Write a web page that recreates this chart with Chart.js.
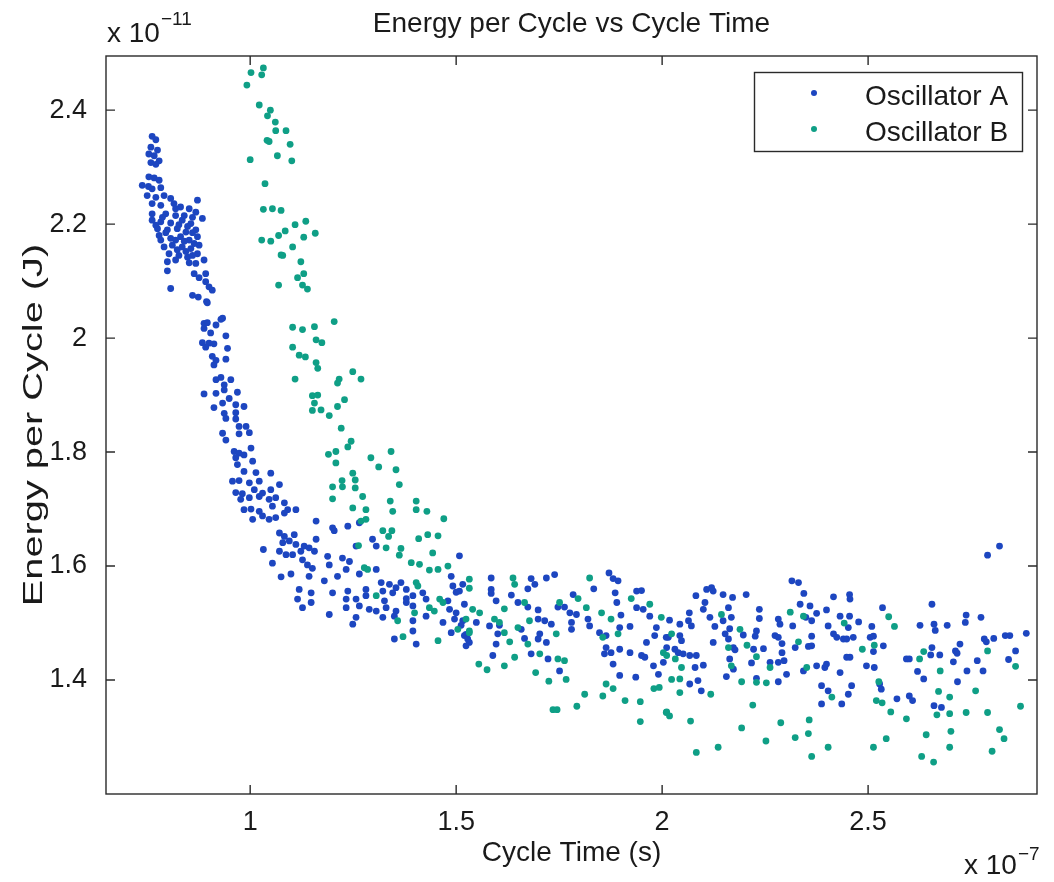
<!DOCTYPE html>
<html><head><meta charset="utf-8">
<script src="https://cdn.jsdelivr.net/npm/chart.js@4.4.0/dist/chart.umd.min.js"></script>
<style>html,body{margin:0;padding:0;background:#fff;}#wrap{width:1054px;height:882px;}</style>
</head><body><div id="wrap"><canvas id="c" width="1054" height="882"></canvas></div>
<script>
// Units: x in 1e-7 s, y in 1e-11 J
const chartTitle = 'Energy per Cycle vs Cycle Time';
const xTitle = 'Cycle Time (s)';
const yTitle = 'Energy per Cycle (J)';
const xTicks = [1, 1.5, 2, 2.5];
const yTicks = [1.4, 1.6, 1.8, 2.0, 2.2, 2.4];
const xRange = [0.65, 2.91];
const yRange = [1.2, 2.495];
const xExponent = '\u22127';
const yExponent = '\u221211';
const seriesNames = ['Oscillator A', 'Oscillator B'];
const seriesColors = ['#1d46c0', '#0f9f86'];

const oscA = [
[0.762,2.354],[0.771,2.348],[0.759,2.335],[0.775,2.33],[0.754,2.323],[0.767,2.32],[0.779,2.311],[0.759,2.308],[0.771,2.305],
[0.754,2.283],[0.767,2.281],[0.779,2.277],[0.738,2.268],[0.753,2.266],[0.762,2.262],[0.783,2.264],[0.75,2.25],[0.771,2.247],
[0.791,2.25],[0.807,2.245],[0.872,2.242],[0.762,2.236],[0.783,2.233],[0.815,2.236],[0.831,2.23],[0.852,2.227],[0.868,2.221],
[0.762,2.218],[0.795,2.218],[0.819,2.215],[0.884,2.21],[0.762,2.207],[0.783,2.204],[0.807,2.202],[0.835,2.207],[0.856,2.201],
[0.775,2.192],[0.799,2.19],[0.823,2.192],[0.844,2.186],[0.868,2.19],[0.779,2.18],[0.807,2.175],[0.831,2.178],[0.852,2.172],
[0.872,2.178],[0.811,2.163],[0.835,2.16],[0.856,2.157],[0.876,2.163],[0.803,2.148],[0.827,2.145],[0.848,2.142],[0.872,2.148],
[0.799,2.134],[0.819,2.137],[0.852,2.132],[0.868,2.131],[0.888,2.137],[0.799,2.118],[0.864,2.113],[0.876,2.106],[0.892,2.113],
[0.892,2.099],[0.9,2.09],[0.807,2.087],[0.86,2.075],[0.874,2.072],[0.894,2.064],[0.908,2.084],[0.933,2.035],
[0.819,2.227],[0.84,2.215],[0.86,2.212],[0.827,2.199],[0.848,2.196],[0.86,2.185],[0.84,2.17],[0.819,2.172],[0.864,2.166],
[0.844,2.152],[0.823,2.155],[0.86,2.145],[0.791,2.16],[0.787,2.212],[0.771,2.198],[0.795,2.185],[0.783,2.172],
[0.896,2.062],[0.888,2.026],[0.896,2.027],[0.917,2.023],[0.929,2.033],[0.888,2.017],[0.904,2.009],[0.941,2.004],[0.884,1.992],
[0.9,1.991],[0.912,1.99],[0.945,1.982],[0.892,1.984],[0.908,1.968],[0.917,1.961],[0.941,1.963],[0.912,1.953],[0.917,1.927],
[0.929,1.931],[0.953,1.927],[0.937,1.918],[0.888,1.902],[0.917,1.903],[0.937,1.909],[0.969,1.905],[0.949,1.894],[0.912,1.878],
[0.933,1.886],[0.965,1.883],[0.985,1.88],[0.937,1.868],[0.965,1.869],[0.941,1.859],[0.965,1.858],[0.973,1.845],[0.99,1.845],
[0.998,1.834],[0.973,1.832],[0.933,1.833],[0.941,1.821],[1.002,1.807],[0.961,1.801],[0.973,1.798],[0.985,1.795],[0.965,1.79],
[1.006,1.784],[0.969,1.778],[0.985,1.766],[1.014,1.764],[1.05,1.763],[0.957,1.749],[0.973,1.75],[0.998,1.746],[1.022,1.749],
[1.071,1.743],[0.965,1.729],[0.981,1.727],[1.01,1.734],[1.03,1.728],[1.05,1.734],[0.977,1.717],[0.998,1.72],[1.022,1.722],
[1.046,1.717],[1.062,1.72],[1.083,1.711],[0.985,1.699],[1.002,1.7],[1.022,1.696],[1.054,1.705],[1.091,1.699],[1.111,1.699],
[1.006,1.682],[1.03,1.688],[1.046,1.682],[1.062,1.685],[1.083,1.693],[1.16,1.679],
[1.071,1.658],[1.083,1.652],[1.107,1.655],[1.2,1.667],[1.237,1.67],[1.265,1.676],[1.204,1.662],[1.079,1.641],[1.095,1.644],
[1.111,1.638],[1.131,1.635],[1.16,1.647],[1.032,1.629],[1.071,1.626],[1.123,1.626],[1.143,1.632],[1.257,1.635],[1.297,1.647],
[1.306,1.635],[1.087,1.62],[1.103,1.62],[1.127,1.611],[1.156,1.626],[1.188,1.617],[1.224,1.614],[1.241,1.608],[1.054,1.605],
[1.139,1.602],[1.151,1.596],[1.192,1.602],[1.075,1.581],[1.099,1.586],[1.143,1.582],[1.18,1.574],[1.212,1.582],[1.233,1.594],
[1.265,1.586],[1.306,1.594],[1.318,1.571],[1.338,1.568],[1.354,1.562],[1.366,1.571],[1.488,1.582],[1.508,1.618],[1.119,1.559],
[1.148,1.553],[1.2,1.553],[1.237,1.556],[1.281,1.559],[1.322,1.556],[1.346,1.553],[1.379,1.559],[1.395,1.548],[1.419,1.553],
[1.492,1.565],[1.508,1.556],[1.115,1.542],[1.233,1.542],[1.257,1.542],[1.281,1.548],[1.326,1.539],[1.379,1.543],[1.427,1.542],
[1.48,1.539],[1.127,1.527],[1.148,1.536],[1.192,1.515],[1.233,1.527],[1.265,1.53],[1.289,1.524],[1.306,1.521],[1.33,1.527],
[1.354,1.521],[1.379,1.536],[1.395,1.53],[1.484,1.524],[1.5,1.518],[1.52,1.533],[1.257,1.51],[1.322,1.51],[1.35,1.512],
[1.395,1.504],[1.427,1.512],[1.468,1.501],[1.516,1.504],[1.249,1.498],[1.395,1.486],[1.488,1.483],[1.524,1.48],[1.35,1.472],
[1.403,1.463],[1.532,1.466],
[1.585,1.579],[1.682,1.578],[1.719,1.579],[1.739,1.585],[1.691,1.568],[1.674,1.56],[1.5,1.554],[1.516,1.568],[1.585,1.559],
[1.634,1.549],[1.585,1.552],[1.597,1.539],[1.65,1.536],[1.674,1.528],[1.699,1.523],[1.747,1.528],[1.763,1.528],[1.784,1.55],
[1.792,1.515],[1.776,1.518],[1.871,1.588],[1.881,1.578],[1.893,1.574],[1.834,1.56],[1.886,1.553],[1.938,1.556],[1.95,1.557],
[1.89,1.536],[1.938,1.527],[1.954,1.524],[1.9,1.514],[1.97,1.512],[1.496,1.507],[1.512,1.496],[1.549,1.501],[1.581,1.495],
[1.605,1.496],[1.658,1.489],[1.699,1.507],[1.715,1.504],[1.731,1.498],[1.703,1.481],[1.666,1.473],[1.601,1.481],[1.52,1.478],
[1.528,1.472],[1.597,1.463],[1.699,1.472],[1.719,1.466],[1.78,1.501],[1.78,1.489],[1.82,1.507],[1.824,1.495],[1.848,1.483],
[1.864,1.478],[1.897,1.492],[1.922,1.494],[1.986,1.492],[1.982,1.478],[1.962,1.466],[2.01,1.475],[1.524,1.46],[1.589,1.443],
[1.682,1.446],[1.723,1.437],[1.751,1.416],[1.864,1.457],[1.876,1.448],[1.897,1.454],[1.922,1.448],[1.86,1.446],[1.881,1.428],
[1.897,1.408],[1.936,1.405],[1.95,1.443],[1.958,1.44],[1.979,1.425],[1.991,1.41],[2.003,1.431],
[2.315,1.574],[2.331,1.571],[2.108,1.559],[2.12,1.562],[2.124,1.556],[2.082,1.548],[2.148,1.55],[2.171,1.545],[2.204,1.55],
[2.344,1.552],[2.416,1.546],[2.455,1.55],[2.456,1.542],[2.104,1.536],[2.1,1.524],[2.161,1.527],[2.236,1.524],[2.335,1.533],
[2.359,1.53],[2.375,1.517],[2.399,1.523],[2.066,1.518],[2.018,1.505],[2.116,1.51],[2.148,1.504],[2.168,1.51],[2.236,1.508],
[2.282,1.507],[2.286,1.498],[2.349,1.51],[2.363,1.504],[2.432,1.512],[2.455,1.512],[2.477,1.502],[2.064,1.504],[2.043,1.498],
[2.071,1.495],[2.128,1.494],[2.164,1.49],[2.229,1.486],[2.317,1.495],[2.403,1.495],[2.452,1.492],[2.153,1.481],[2.161,1.472],
[2.197,1.479],[2.226,1.477],[2.274,1.478],[2.282,1.475],[2.363,1.477],[2.416,1.481],[2.424,1.475],[2.44,1.472],[2.464,1.475],
[2.015,1.475],[2.043,1.478],[2.047,1.469],[2.011,1.457],[2.031,1.454],[2.039,1.448],[2.051,1.446],[2.067,1.443],[2.083,1.443],
[2.124,1.466],[2.173,1.457],[2.177,1.453],[2.222,1.454],[2.246,1.455],[2.291,1.464],[2.291,1.448],[2.323,1.457],[2.355,1.459],
[2.363,1.46],[2.448,1.472],[2.448,1.44],[2.456,1.44],[2.08,1.422],[2.1,1.426],[2.164,1.437],[2.173,1.419],[2.217,1.43],
[2.262,1.431],[2.282,1.431],[2.296,1.434],[2.343,1.416],[2.375,1.425],[2.395,1.422],[2.399,1.428],[2.432,1.413],[2.496,1.425],
[2.302,1.41],[2.156,1.406],[2.229,1.403],[2.282,1.397],[2.067,1.393],[2.087,1.399],[2.095,1.381],[2.387,1.39],[2.403,1.381],
[2.452,1.375],[2.46,1.39],[2.387,1.358],[2.436,1.358],
[2.819,1.635],[2.79,1.619],[2.535,1.527],[2.655,1.533],[2.738,1.514],[2.774,1.51],[2.509,1.494],[2.626,1.496],[2.66,1.498],
[2.692,1.496],[2.736,1.501],[2.663,1.487],[2.505,1.475],[2.513,1.477],[2.537,1.46],[2.513,1.45],[2.782,1.472],[2.787,1.467],
[2.805,1.473],[2.833,1.478],[2.844,1.478],[2.884,1.482],[2.655,1.457],[2.652,1.444],[2.674,1.444],[2.712,1.451],[2.723,1.463],
[2.716,1.447],[2.858,1.451],[2.593,1.437],[2.6,1.437],[2.515,1.422],[2.707,1.432],[2.765,1.434],[2.841,1.436],[2.62,1.415],
[2.635,1.402],[2.74,1.416],[2.779,1.416],[2.717,1.397],[2.528,1.393],[2.532,1.384],[2.6,1.372],[2.608,1.364],[2.57,1.367],
[2.66,1.355],[2.678,1.352]
];

const oscB = [
[1.002,2.466],[1.032,2.474],[1.028,2.462],[0.992,2.444],[1.022,2.409],[1.049,2.4],[1.042,2.39],[1.061,2.379],[1.062,2.364],
[1.087,2.364],[1.041,2.347],[1.046,2.345],[1.097,2.34],[1.0,2.313],[1.066,2.32],[1.101,2.311],[1.036,2.271],[1.032,2.226],
[1.054,2.227],[1.075,2.224],[1.109,2.199],[1.135,2.205],[1.085,2.188],[1.158,2.184],[1.028,2.172],[1.05,2.17],[1.069,2.18],
[1.13,2.177],[1.103,2.16],[1.075,2.146],[1.079,2.145],[1.123,2.134],[1.13,2.113],[1.115,2.106],[1.069,2.093],[1.127,2.093],
[1.139,2.086],
[1.103,2.019],[1.127,2.015],[1.156,2.02],[1.204,2.029],[1.16,1.997],[1.174,1.992],[1.103,1.984],[1.119,1.97],[1.134,1.967],
[1.16,1.957],[1.164,1.947],[1.109,1.928],[1.216,1.928],[1.212,1.921],[1.249,1.941],[1.269,1.928],[1.151,1.899],[1.164,1.9],
[1.229,1.892],[1.156,1.886],[1.151,1.873],[1.172,1.874],[1.212,1.88],[1.192,1.864],[1.221,1.842],[1.245,1.819],[1.237,1.809],
[1.19,1.796],[1.208,1.801],[1.208,1.781],[1.249,1.763],[1.223,1.75],[1.255,1.751],[1.2,1.739],[1.224,1.739],[1.255,1.737],
[1.2,1.718],[1.273,1.722],[1.249,1.702],[1.281,1.699],[1.269,1.679],[1.281,1.682],
[1.342,1.801],[1.293,1.79],[1.312,1.774],[1.354,1.769],[1.362,1.743],[1.34,1.714],[1.403,1.714],[1.346,1.696],[1.403,1.699],
[1.429,1.696],[1.47,1.683],[1.322,1.662],[1.344,1.662],[1.336,1.652],[1.431,1.655],[1.456,1.653],[1.409,1.648],[1.33,1.632],
[1.366,1.631],[1.263,1.636],[1.443,1.623],[1.362,1.619],[1.391,1.606],[1.411,1.603],[1.48,1.6],[1.435,1.593],[1.456,1.594],
[1.277,1.597],[1.285,1.594],[1.532,1.577],[1.403,1.571],[1.407,1.565],[1.306,1.548],[1.46,1.542],[1.435,1.527],[1.447,1.521],
[1.468,1.536],[1.399,1.518],[1.358,1.504],[1.524,1.507],[1.532,1.486],[1.504,1.489],[1.371,1.476],[1.456,1.469],
[1.532,1.561],[1.638,1.579],[1.642,1.568],[1.824,1.579],[1.796,1.543],[1.925,1.543],[1.97,1.533],[1.617,1.525],[1.666,1.536],
[1.751,1.536],[1.816,1.527],[1.853,1.518],[1.54,1.524],[1.557,1.518],[1.593,1.507],[1.605,1.501],[1.532,1.483],[1.617,1.483],
[1.65,1.492],[1.678,1.504],[1.743,1.481],[1.876,1.507],[1.893,1.481],[1.856,1.475],[1.998,1.51],[1.63,1.467],[1.674,1.463],
[1.642,1.44],[1.703,1.446],[1.747,1.437],[1.763,1.434],[2.003,1.448],[1.555,1.428],[1.575,1.418],[1.617,1.425],[1.693,1.413],
[1.767,1.401],[1.725,1.398],[1.864,1.393],[1.881,1.385],[1.812,1.375],[1.856,1.372],[1.91,1.364],[1.947,1.362],[1.98,1.385],
[1.993,1.387],[1.793,1.354],[1.735,1.348],[1.745,1.348],[1.947,1.327],[2.01,1.343],
[2.144,1.515],[2.189,1.489],[2.311,1.519],[2.343,1.512],[2.442,1.5],[2.486,1.454],[2.023,1.481],[2.161,1.457],[2.206,1.461],
[2.011,1.443],[2.032,1.437],[2.047,1.422],[2.168,1.425],[2.229,1.441],[2.331,1.467],[2.351,1.422],[2.262,1.422],[2.023,1.401],
[2.043,1.402],[2.043,1.378],[2.118,1.375],[2.193,1.397],[2.229,1.396],[2.253,1.395],[2.412,1.37],[2.011,1.344],[2.018,1.337],
[2.069,1.328],[2.22,1.356],[2.193,1.316],[2.288,1.325],[2.357,1.33],[2.355,1.306],[2.323,1.299],[2.252,1.293],[2.083,1.273],
[2.136,1.282],[2.363,1.266],[2.403,1.282],
[2.55,1.511],[2.564,1.494],[2.515,1.461],[2.635,1.45],[2.625,1.437],[2.79,1.451],[2.858,1.424],[2.675,1.416],[2.526,1.397],
[2.52,1.364],[2.534,1.36],[2.671,1.38],[2.698,1.37],[2.761,1.381],[2.555,1.344],[2.593,1.332],[2.667,1.339],[2.698,1.341],
[2.738,1.343],[2.79,1.343],[2.87,1.354],[2.701,1.31],[2.641,1.304],[2.819,1.313],[2.83,1.297],[2.544,1.297],[2.513,1.282],
[2.698,1.282],[2.801,1.275],[2.63,1.266],[2.659,1.256]
];

const FONT = '"Liberation Sans", Arial, Helvetica, sans-serif';
const TXT = '#1a1a1a';
const yTitleStretch = 1.42;
const toPts = arr => arr.map(p => ({x: p[0], y: p[1]}));

const framePlugin = {
  id: 'frame',
  afterDatasetsDraw(chart) {
    const {ctx, chartArea: a, scales} = chart;
    ctx.save();
    ctx.strokeStyle = '#2a2a2a';
    ctx.lineWidth = 1.4;
    ctx.strokeRect(a.left, a.top, a.right - a.left, a.bottom - a.top);
    const L = 9;
    ctx.beginPath();
    scales.x.ticks.forEach(t => {
      const px = scales.x.getPixelForValue(t.value);
      ctx.moveTo(px, a.bottom); ctx.lineTo(px, a.bottom - L);
      ctx.moveTo(px, a.top); ctx.lineTo(px, a.top + L);
    });
    scales.y.ticks.forEach(t => {
      const py = scales.y.getPixelForValue(t.value);
      ctx.moveTo(a.left, py); ctx.lineTo(a.left + L, py);
      ctx.moveTo(a.right, py); ctx.lineTo(a.right - L, py);
    });
    ctx.stroke();
    ctx.restore();
  },
  afterDraw(chart) {
    const {ctx, chartArea: a} = chart;
    ctx.save();
    ctx.fillStyle = TXT;
    ctx.textBaseline = 'alphabetic';
    ctx.textAlign = 'left';
    // y exponent (top-left)
    ctx.font = '28px ' + FONT;
    ctx.fillText('x 10', a.left + 1, 42);
    let w = ctx.measureText('x 10').width;
    ctx.font = '19px ' + FONT;
    ctx.fillText(yExponent, a.left + 1 + w + 1, 25);
    // x exponent (bottom-right)
    ctx.font = '28px ' + FONT;
    const xs = 964;
    ctx.fillText('x 10', xs, 874);
    w = ctx.measureText('x 10').width;
    ctx.font = '19px ' + FONT;
    ctx.fillText(xExponent, xs + w + 1, 860);
    // y axis title
    ctx.save();
    ctx.translate(34, (a.top + a.bottom) / 2);
    ctx.rotate(-Math.PI / 2);
    ctx.scale(yTitleStretch, 1);
    ctx.textAlign = 'center';
    ctx.textBaseline = 'middle';
    ctx.font = '28px ' + FONT;
    ctx.fillText(yTitle, 0, 0);
    ctx.restore();
    // legend
    const bx = 754.5, by = 72.5, bw = 268, bh = 79;
    ctx.fillStyle = '#fff';
    ctx.fillRect(bx, by, bw, bh);
    ctx.strokeStyle = '#2a2a2a';
    ctx.lineWidth = 1.4;
    ctx.strokeRect(bx, by, bw, bh);
    const rows = [93, 129];
    const bases = [105, 141];
    chart.data.datasets.forEach((ds, i) => {
      ctx.fillStyle = ds.backgroundColor;
      ctx.beginPath();
      ctx.arc(814, rows[i], 3, 0, Math.PI * 2);
      ctx.fill();
      ctx.fillStyle = TXT;
      ctx.font = '28px ' + FONT;
      ctx.fillText(ds.label, 865, bases[i]);
    });
    ctx.restore();
  }
};

new Chart(document.getElementById('c'), {
  type: 'scatter',
  data: {
    datasets: [
      {label: seriesNames[0], data: toPts(oscA), backgroundColor: seriesColors[0], borderWidth: 0, pointRadius: 3.4, order: 1},
      {label: seriesNames[1], data: toPts(oscB), backgroundColor: seriesColors[1], borderWidth: 0, pointRadius: 3.4, order: 0}
    ]
  },
  options: {
    responsive: false,
    animation: false,
    devicePixelRatio: 1,
    events: [],
    layout: {padding: {top: 0, left: 0, right: 17, bottom: 0}},
    plugins: {
      legend: {display: false},
      tooltip: {enabled: false},
      title: {
        display: true, text: chartTitle, fullSize: false, color: TXT,
        font: {family: FONT, size: 28, weight: 'normal'},
        padding: {top: 7, bottom: 15.4}
      }
    },
    scales: {
      x: {
        type: 'linear', min: xRange[0], max: xRange[1],
        afterBuildTicks: s => { s.ticks = xTicks.map(v => ({value: v})); },
        afterFit: s => { s.height = 88; },
        grid: {display: false, drawTicks: false, tickLength: 0},
        border: {display: false},
        ticks: {color: TXT, font: {family: FONT, size: 27}, padding: 12, maxRotation: 0, callback: v => String(v)},
        title: {display: true, text: xTitle, color: TXT, font: {family: FONT, size: 28}, padding: {top: 0, bottom: 12}}
      },
      y: {
        type: 'linear', min: yRange[0], max: yRange[1],
        afterBuildTicks: s => { s.ticks = yTicks.map(v => ({value: v})); },
        afterFit: s => { s.width = 106; },
        grid: {display: false, drawTicks: false, tickLength: 0},
        border: {display: false},
        ticks: {color: TXT, font: {family: FONT, size: 27}, padding: 19, callback: v => String(v)},
        title: {display: false, text: yTitle}
      }
    }
  },
  plugins: [framePlugin]
});
</script>
</body></html>
